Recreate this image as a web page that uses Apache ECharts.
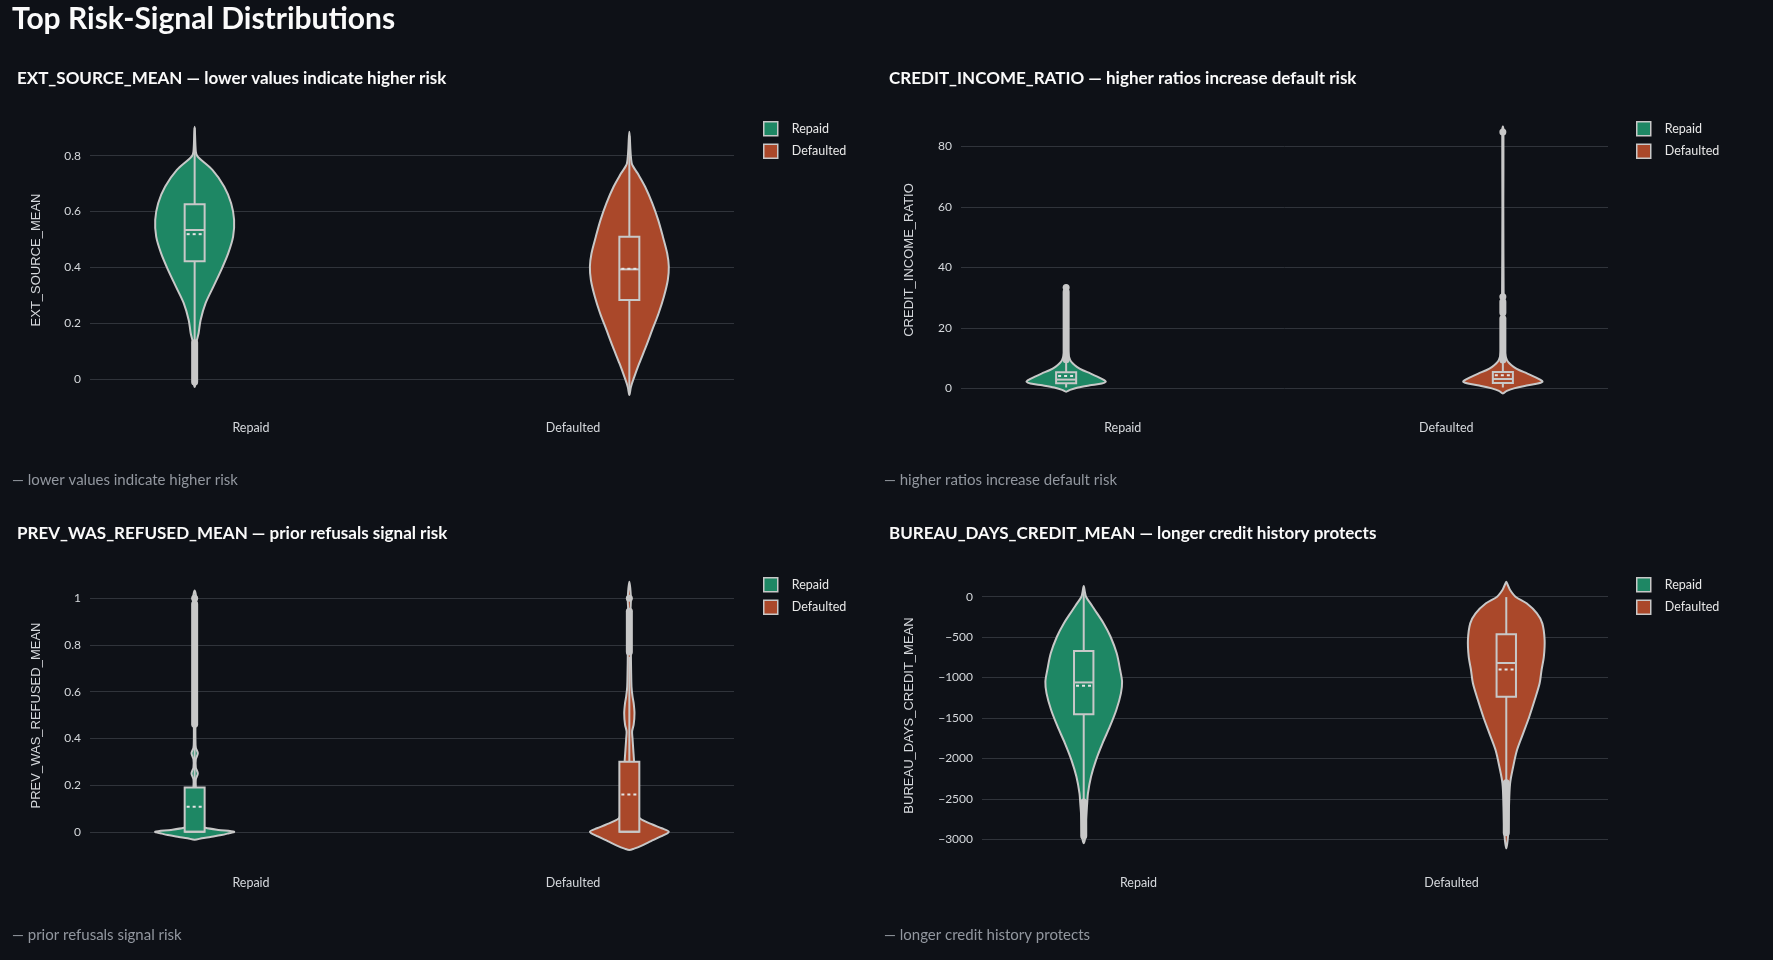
<!DOCTYPE html>
<html>
<head>
<meta charset="utf-8">
<title>Top Risk-Signal Distributions</title>
<script src="https://cdn.jsdelivr.net/npm/echarts@6/dist/echarts.min.js"></script>
<style>
  html, body { margin: 0; padding: 0; background: #0e1117; }
  #main { width: 1773px; height: 960px; }
</style>
</head>
<body>
<div id="main"></div>
<script>
"use strict";
// ---- data ----
const categories = ["Repaid", "Defaulted"];
const featureNames = ["EXT_SOURCE_MEAN", "CREDIT_INCOME_RATIO", "PREV_WAS_REFUSED_MEAN", "BUREAU_DAYS_CREDIT_MEAN"];
const featureNotes = ["lower values indicate higher risk", "higher ratios increase default risk", "prior refusals signal risk", "longer credit history protects"];

// y ranges of each panel and tick step
const yRanges = [[-0.082, 0.935], [-4.5, 89.35], [-0.108, 1.104], [-3218.7, 280.7]];
const yTickSteps = [0.2, 20, 0.2, 500];

// violin outline: [value, relative density (1 = widest)]
// box: [q1, median, q3, mean, whiskerLow, whiskerHigh]
// outlier runs: [from, to] of densely packed outlier markers
const extRepaidViolin = [[0.904, 0], [0.815, 0.03], [0.797, 0.075], [0.749, 0.45], [0.689, 0.75], [0.63, 0.925], [0.57, 1.0], [0.51, 0.975], [0.45, 0.85], [0.391, 0.675], [0.331, 0.475], [0.271, 0.275], [0.211, 0.15], [0.164, 0.1], [0.134, 0.05], [0.1, 0.04], [0.0, 0.03], [-0.028, 0]];
const extRepaidBox = [0.422, 0.534, 0.626, 0.519, 0.135, 0.9];
const extRepaidRuns = [[-0.01, 0.13]];
const extRepaidPoints = [];
const extDefaultedViolin = [[0.886, 0], [0.773, 0.06], [0.737, 0.21], [0.689, 0.4], [0.63, 0.58], [0.57, 0.73], [0.51, 0.85], [0.45, 0.96], [0.403, 1.0], [0.355, 0.975], [0.295, 0.875], [0.235, 0.74], [0.176, 0.58], [0.116, 0.42], [0.056, 0.25], [0.008, 0.125], [-0.028, 0.04], [-0.057, 0]];
const extDefaultedBox = [0.283, 0.393, 0.51, 0.395, -0.04, 0.87];
const extDefaultedRuns = [];
const extDefaultedPoints = [];

const ratioRepaidViolin = [[34, 0], [33.5, 0.015], [20, 0.03], [12, 0.05], [9.4, 0.1], [8.2, 0.17], [7.1, 0.27], [6, 0.42], [4.9, 0.62], [3.8, 0.8], [2.7, 0.96], [2.2, 1.0], [1.6, 0.9], [1.0, 0.6], [0.3, 0.3], [-0.5, 0.1], [-1.1, 0]];
const ratioRepaidBox = [1.7, 2.9, 5.3, 4.1, 0.3, 9.4];
const ratioRepaidRuns = [[9.5, 31.9]];
const ratioRepaidPoints = [33.3];
const ratioDefaultedViolin = [[86.5, 0], [85, 0.015], [60, 0.012], [30, 0.02], [20, 0.03], [12, 0.05], [9.4, 0.1], [8.2, 0.17], [7.1, 0.27], [6, 0.42], [4.9, 0.62], [3.8, 0.8], [2.8, 0.95], [2.2, 1.0], [1.5, 0.85], [0.8, 0.55], [0, 0.28], [-0.8, 0.1], [-1.65, 0]];
const ratioDefaultedBox = [1.8, 3.1, 5.4, 4.3, 0.3, 9.4];
const ratioDefaultedRuns = [[9.4, 23.1], [25.0, 28.6]];
const ratioDefaultedPoints = [30.3, 84.7];

const refusedRepaidViolin = [[1.033, 0], [1.0, 0.04], [0.9, 0.02], [0.7, 0.02], [0.5, 0.02], [0.4, 0.02], [0.36, 0.03], [0.336, 0.08], [0.31, 0.03], [0.275, 0.03], [0.25, 0.08], [0.225, 0.03], [0.19, 0.03], [0.1, 0.03], [0.03, 0.04], [0.017, 0.27], [0.008, 0.6], [0, 1.0], [-0.007, 0.85], [-0.014, 0.68], [-0.022, 0.4], [-0.028, 0.18], [-0.034, 0]];
const refusedRepaidBox = [0, 0, 0.19, 0.107, 0, 0.455];
const refusedRepaidRuns = [[0.46, 0.975]];
const refusedRepaidPoints = [1.0];
const refusedDefaultedViolin = [[1.071, 0], [1.0, 0.04], [0.95, 0.03], [0.85, 0.04], [0.75, 0.04], [0.69, 0.045], [0.62, 0.055], [0.58, 0.08], [0.55, 0.11], [0.507, 0.13], [0.46, 0.11], [0.43, 0.07], [0.4, 0.08], [0.35, 0.1], [0.3, 0.12], [0.2, 0.15], [0.1, 0.2], [0.08, 0.22], [0.057, 0.27], [0.03, 0.6], [0.015, 0.82], [0, 1.0], [-0.02, 0.8], [-0.04, 0.55], [-0.06, 0.3], [-0.072, 0.12], [-0.078, 0]];
const refusedDefaultedBox = [0, 0, 0.3, 0.16, 0, 0.75];
const refusedDefaultedRuns = [[0.77, 0.945]];
const refusedDefaultedPoints = [1.0];

const bureauRepaidViolin = [[132, 0], [60, 0.03], [0, 0.06], [-80, 0.17], [-164, 0.29], [-330, 0.52], [-495, 0.7], [-700, 0.86], [-907, 0.95], [-1051, 1.0], [-1195, 0.97], [-1401, 0.85], [-1608, 0.68], [-1813, 0.49], [-2020, 0.32], [-2226, 0.19], [-2432, 0.11], [-2555, 0.09], [-2750, 0.06], [-2968, 0.04], [-3050, 0]];
const bureauRepaidBox = [-1455, -1060, -672, -1100, -2530, 100];
const bureauRepaidRuns = [[-2960, -2540]];
const bureauRepaidPoints = [];
const bureauDefaultedViolin = [[185, 0], [145, 0.04], [83, 0.1], [0, 0.24], [-82, 0.53], [-206, 0.8], [-330, 0.94], [-536, 1.0], [-742, 0.98], [-907, 0.92], [-1071, 0.87], [-1278, 0.74], [-1484, 0.6], [-1690, 0.44], [-1896, 0.28], [-2102, 0.18], [-2308, 0.1], [-2600, 0.07], [-2926, 0.05], [-3112, 0]];
const bureauDefaultedBox = [-1237, -820, -465, -900, -2290, -5];
const bureauDefaultedRuns = [[-2920, -2300]];
const bureauDefaultedPoints = [];

// ---- styling ----
const FILLS = ["#1e8764", "#aa482a"];
const LINE = "#c8c8c8";
const GROUP_OFFSET = 0.175;   // violin centre offset, share of band
const VIOLIN_HALF = 0.1225;   // widest half width, share of band
const BOX_HALF = 0.031;       // box half width, share of band
const DOT_R = 3.5;

const panels = [
  [[extRepaidViolin, extRepaidBox, extRepaidRuns, extRepaidPoints], [extDefaultedViolin, extDefaultedBox, extDefaultedRuns, extDefaultedPoints]],
  [[ratioRepaidViolin, ratioRepaidBox, ratioRepaidRuns, ratioRepaidPoints], [ratioDefaultedViolin, ratioDefaultedBox, ratioDefaultedRuns, ratioDefaultedPoints]],
  [[refusedRepaidViolin, refusedRepaidBox, refusedRepaidRuns, refusedRepaidPoints], [refusedDefaultedViolin, refusedDefaultedBox, refusedDefaultedRuns, refusedDefaultedPoints]],
  [[bureauRepaidViolin, bureauRepaidBox, bureauRepaidRuns, bureauRepaidPoints], [bureauDefaultedViolin, bureauDefaultedBox, bureauDefaultedRuns, bureauDefaultedPoints]]
];

const grids = [
  { left: 90, top: 118, width: 644, height: 284 },
  { left: 961, top: 118, width: 647, height: 284 },
  { left: 90, top: 574, width: 644, height: 283 },
  { left: 982, top: 574, width: 626, height: 283 }
];
const nameGaps = [47, 45, 47, 66];
const legendPos = [[763, 121], [1636, 121], [763, 577], [1636, 577]];
const titlePos = [[17, 70], [889, 70], [17, 525], [889, 525]];
const notePos = [[12, 473], [884, 473], [12, 928], [884, 928]];

function makeRender(spec, group) {
  const violin = spec[0], box = spec[1], runs = spec[2], points = spec[3];
  const fill = FILLS[group];
  const side = group === 0 ? -1 : 1;
  return function (params, api) {
    const cat = api.value(0);
    const band = api.size([1, 0])[0];
    const cx = api.coord([cat, 0])[0] + side * band * GROUP_OFFSET;
    const hw = band * VIOLIN_HALF;
    const bh = band * BOX_HALF;
    const yOf = function (v) { return api.coord([cat, v])[1]; };

    const left = violin.map(function (p) { return [cx - p[1] * hw, yOf(p[0])]; });
    const right = violin.slice().reverse()
      .filter(function (p) { return p[1] > 0; })
      .map(function (p) { return [cx + p[1] * hw, yOf(p[0])]; });

    const children = [];
    children.push({ type: "polygon", shape: { points: left.concat(right), smooth: 0.3 },
      style: { fill: fill, stroke: LINE, lineWidth: 2 } });
    children.push({ type: "line", shape: { x1: cx, y1: yOf(box[2]), x2: cx, y2: yOf(box[5]) },
      style: { stroke: LINE, lineWidth: 2 } });
    children.push({ type: "line", shape: { x1: cx, y1: yOf(box[0]), x2: cx, y2: yOf(box[4]) },
      style: { stroke: LINE, lineWidth: 2 } });
    runs.forEach(function (r) {
      const yTop = yOf(r[1]), yBot = yOf(r[0]);
      children.push({ type: "rect",
        shape: { x: cx - DOT_R, y: yTop - DOT_R, width: DOT_R * 2, height: yBot - yTop + DOT_R * 2, r: DOT_R },
        style: { fill: LINE } });
    });
    points.forEach(function (v) {
      children.push({ type: "circle", shape: { cx: cx, cy: yOf(v), r: DOT_R }, style: { fill: LINE } });
    });
    const yq3 = yOf(box[2]), yq1 = yOf(box[0]);
    children.push({ type: "rect", shape: { x: cx - bh, y: yq3, width: bh * 2, height: yq1 - yq3 },
      style: { fill: fill, stroke: LINE, lineWidth: 2 } });
    children.push({ type: "line", shape: { x1: cx - bh, y1: yOf(box[1]), x2: cx + bh, y2: yOf(box[1]) },
      style: { stroke: LINE, lineWidth: 2 } });
    children.push({ type: "line", shape: { x1: cx - bh + 2, y1: yOf(box[3]), x2: cx + bh - 2, y2: yOf(box[3]) },
      style: { stroke: "#e4e4e4", lineWidth: 2, lineDash: [3, 3] } });
    return { type: "group", children: children };
  };
}

function tickLabel(v) {
  return v < 0 ? "\u2212" + String(Math.abs(v)) : String(v);
}

const chart = echarts.init(document.getElementById("main"));

const titles = [{
  text: "Top Risk-Signal Distributions", left: 12, top: 4, padding: 0,
  textStyle: { color: "#fafafa", fontSize: 30, fontWeight: "bold", fontFamily: "Lato" }
}];
featureNames.forEach(function (f, i) {
  titles.push({ text: f + " \u2014 " + featureNotes[i], left: titlePos[i][0], top: titlePos[i][1], padding: 0,
    textStyle: { color: "#fafafa", fontSize: 17, fontWeight: "bold", fontFamily: "Lato" } });
  titles.push({ text: "\u2014 " + featureNotes[i], left: notePos[i][0], top: notePos[i][1], padding: 0,
    textStyle: { color: "#92979f", fontSize: 15, fontWeight: "normal", fontFamily: "Lato" } });
});

const series = [];
panels.forEach(function (panel, p) {
  panel.forEach(function (spec, g) {
    series.push({
      type: "custom", name: categories[g], xAxisIndex: p, yAxisIndex: p,
      data: [[g, spec[1][1]]],
      itemStyle: { color: FILLS[g] },
      renderItem: makeRender(spec, g),
      silent: true
    });
  });
});

const option = {
  backgroundColor: "#0e1117",
  animation: false,
  textStyle: { fontFamily: "Lato" },
  title: titles,
  legend: legendPos.map(function (pos) {
    return {
      orient: "vertical", left: pos[0], top: pos[1], padding: 0,
      icon: "rect", itemWidth: 14, itemHeight: 14, itemGap: 7,
      data: categories, selectedMode: false,
      itemStyle: { borderColor: LINE, borderWidth: 1.5 },
      textStyle: { color: "#e8e8e8", fontSize: 12.5, padding: [0, 0, 0, 9] }
    };
  }),
  grid: grids,
  xAxis: grids.map(function (g, i) {
    return {
      type: "category", gridIndex: i, data: categories,
      axisLine: { show: false }, axisTick: { show: false }, splitLine: { show: false },
      axisLabel: { color: "#d5d8dc", fontSize: 12.5, margin: 19 }
    };
  }),
  yAxis: grids.map(function (g, i) {
    return {
      type: "value", gridIndex: i,
      min: yRanges[i][0], max: yRanges[i][1],
      minInterval: yTickSteps[i], maxInterval: yTickSteps[i], splitNumber: 5,
      name: featureNames[i], nameLocation: "middle", nameGap: nameGaps[i],
      nameTextStyle: { color: "#d5d8dc", fontSize: 13, fontFamily: "Liberation Sans" },
      axisLine: { show: false }, axisTick: { show: false },
      axisLabel: { color: "#d5d8dc", fontSize: 12, margin: 9, formatter: tickLabel,
        showMinLabel: false, showMaxLabel: false },
      splitLine: { lineStyle: { color: "#30343b", width: 1 }, showMinLine: false, showMaxLine: false }
    };
  }),
  series: series
};

chart.setOption(option);
</script>
</body>
</html>
